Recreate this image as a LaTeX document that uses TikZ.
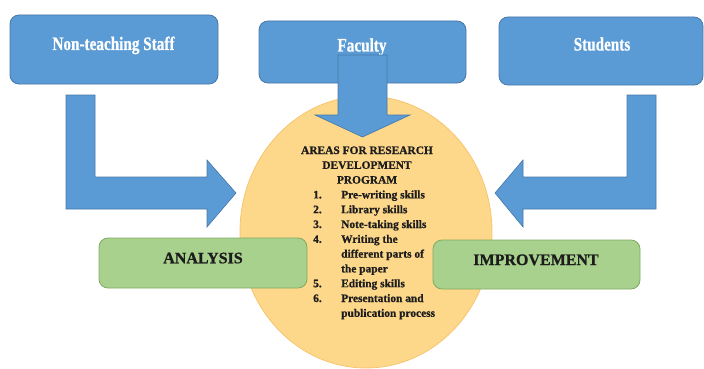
\documentclass[tikz,border=0pt]{standalone}
\usepackage{fontspec}
\usepackage{graphicx}
\setmainfont{Liberation Serif}[BoldFeatures={FakeBold=0.8}]
\usetikzlibrary{shapes.geometric}

\definecolor{boxblue}{HTML}{5B9BD5}
\definecolor{boxblueline}{HTML}{4677A8}
\definecolor{boxgreen}{HTML}{A9D18E}
\definecolor{boxgreenline}{HTML}{7FAA62}
\definecolor{ovalfill}{HTML}{FDD78A}
\definecolor{ovalline}{HTML}{F6C56E}
\definecolor{inktext}{HTML}{1C1C1C}

\tikzset{
  groupbox/.style={draw=boxblueline, line width=0.8pt, fill=boxblue,
    rounded corners=9pt, inner sep=0pt},
  stagebox/.style={draw=boxgreenline, line width=0.8pt, fill=boxgreen,
    rounded corners=9pt, inner sep=0pt},
  blockarrow/.style={draw=boxblueline, line width=0.6pt, fill=boxblue},
  grouptext/.style={anchor=base, inner sep=0pt, text=white,
    font=\fontsize{19}{22}\selectfont\bfseries},
  stagetext/.style={anchor=base, inner sep=0pt, text=inktext,
    font=\fontsize{16}{19}\selectfont\bfseries},
  ovaltext/.style={inner sep=0pt, text=inktext,
    font=\fontsize{11.4}{14.8}\selectfont\bfseries},
}

\begin{document}
\begin{tikzpicture}[x=1pt, y=-1pt]
  \useasboundingbox (0,0) rectangle (704,369);

  % stakeholder boxes
  \node[groupbox, minimum width=208pt, minimum height=69pt] (staff) at (114,49.5) {};
  \node[groupbox, minimum width=207pt, minimum height=62pt] (faculty) at (362.5,52) {};
  \node[groupbox, minimum width=204pt, minimum height=68pt] (students) at (601,51) {};

  \node[grouptext] (stafftxt) at (113.5,50) {\scalebox{0.8}[1]{Non-teaching Staff}};
  \node[grouptext] (facultytxt) at (362,51.5) {\scalebox{0.8}[1]{Faculty}};
  \node[grouptext] (studentstxt) at (602,50.5) {\scalebox{0.8}[1]{Students}};

  % central oval
  \node[ellipse, draw=ovalline, line width=0.8pt, fill=ovalfill,
        minimum width=252pt, minimum height=272pt, inner sep=0pt] (areas) at (366,232) {};

  % block arrows feeding the oval
  \draw[blockarrow] (338,55) -- (387,55) -- (387,115) -- (410,115) -- (362.5,137)
    -- (315,115) -- (338,115) -- cycle;
  \draw[blockarrow] (66,95) -- (95,95) -- (95,177) -- (207,177) -- (207,160)
    -- (236,193) -- (207,227) -- (207,209) -- (66,209) -- cycle;
  \draw[blockarrow] (627,95) -- (656,95) -- (656,209) -- (523,209) -- (523,227)
    -- (495,193) -- (523,160) -- (523,177) -- (627,177) -- cycle;

  % outcome boxes
  \node[stagebox, minimum width=208pt, minimum height=50pt] (analysis) at (203,263) {};
  \node[stagebox, minimum width=207pt, minimum height=49pt] (improve) at (536.5,264.5) {};
  \node[stagetext] (analysistxt) at (203,263.3) {ANALYSIS};
  \node[stagetext] (improvetxt) at (536,265) {IMPROVEMENT};

  % oval heading
  \node[ovaltext, anchor=base] (hd1) at (367,154) {AREAS FOR RESEARCH};
  \node[ovaltext, anchor=base] (hd2) at (367,168.8) {DEVELOPMENT};
  \node[ovaltext, anchor=base] (hd3) at (367,183.6) {PROGRAM};

  % numbered list
  \foreach \num/\row in {1./0, 2./1, 3./2, 4./3, 5./6, 6./7}
    \node[ovaltext, anchor=base west] (n\row) at (313,198.4+14.8*\row) {\num};
  \foreach \item/\row in {Pre-writing skills/0, Library skills/1, Note-taking skills/2,
      Writing the/3, different parts of/4, the paper/5, Editing skills/6,
      Presentation and/7, publication process/8}
    \node[ovaltext, anchor=base west] (t\row) at (341,198.4+14.8*\row) {\item};
\end{tikzpicture}
\end{document}
